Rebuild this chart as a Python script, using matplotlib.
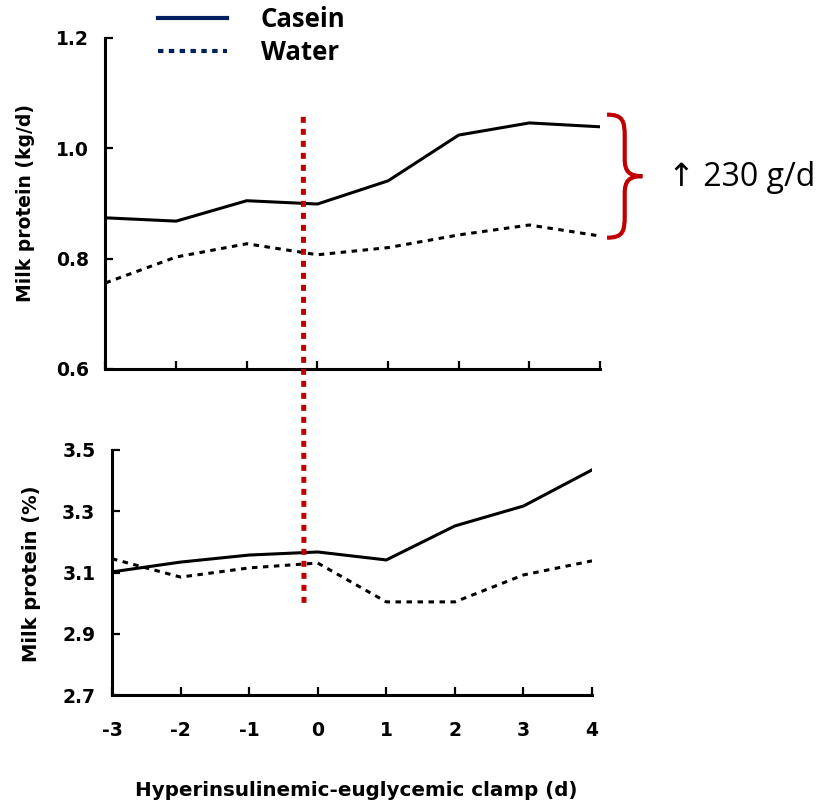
import matplotlib
matplotlib.use("Agg")
import matplotlib.pyplot as plt
from matplotlib.lines import Line2D
from matplotlib.patches import ConnectionPatch, PathPatch
from matplotlib.path import Path

# data
days = [-3, -2, -1, 0, 1, 2, 3, 4]
day_labels = ['-3', '-2', '-1', '0', '1', '2', '3', '4']

casein_kg = [0.874, 0.868, 0.905, 0.899, 0.941, 1.024, 1.046, 1.039]
water_kg = [0.756, 0.803, 0.827, 0.807, 0.820, 0.843, 0.861, 0.841]

casein_pct = [3.102, 3.134, 3.157, 3.167, 3.141, 3.252, 3.317, 3.435]
water_pct = [3.145, 3.085, 3.115, 3.131, 3.004, 3.004, 3.092, 3.138]

kg_ticks = [0.6, 0.8, 1.0, 1.2]
kg_labels = ['0.6', '0.8', '1.0', '1.2']
pct_ticks = [2.7, 2.9, 3.1, 3.3, 3.5]
pct_labels = ['2.7', '2.9', '3.1', '3.3', '3.5']

clamp_day = -0.2
red = '#C00000'
navy = '#002060'

plt.rcParams['axes.unicode_minus'] = False
fig = plt.figure(figsize=(8.21, 8.06), dpi=100)

ax1 = fig.add_axes([0.1285, 0.5422, 0.6023, 0.4107])
ax2 = fig.add_axes([0.1364, 0.1377, 0.5847, 0.3040])

tick_font = dict(family='DejaVu Sans', weight='bold', size=13.5)

for ax in (ax1, ax2):
    for side in ('top', 'right'):
        ax.spines[side].set_visible(False)
    for side in ('left', 'bottom'):
        ax.spines[side].set_linewidth(2.2)
    ax.tick_params(direction='in', length=6, width=1.6)
    ax.set_xlim(-3, 4)
    ax.set_xticks(days)

# top panel: kg/d
ax1.plot(days, casein_kg, color='black', lw=2.2, solid_joinstyle='round')
ax1.plot(days, water_kg, color='black', lw=2.2, linestyle=(0, (1.8, 1.8)))
ax1.set_ylim(0.6, 1.2)
ax1.set_yticks(kg_ticks)
ax1.set_yticklabels(kg_labels, fontdict=tick_font)
ax1.tick_params(axis='y', pad=12)
ax1.tick_params(axis='x', labelbottom=False)
ax1.set_ylabel('Milk protein (kg/d)', family='DejaVu Sans', weight='bold', size=13.5, va='center')
ax1.yaxis.set_label_coords(-0.162, 0.5)

# bottom panel: %
ax2.plot(days, casein_pct, color='black', lw=2.2, solid_joinstyle='round')
ax2.plot(days, water_pct, color='black', lw=2.2, linestyle=(0, (1.8, 1.8)))
ax2.set_ylim(2.7, 3.5)
ax2.set_yticks(pct_ticks)
ax2.set_yticklabels(pct_labels, fontdict=tick_font)
ax2.set_xticklabels(day_labels, fontdict=tick_font)
ax2.tick_params(axis='y', pad=12)
ax2.tick_params(axis='x', pad=19)
ax2.set_ylabel('Milk protein (%)', family='DejaVu Sans', weight='bold', size=14, va='center')
ax2.yaxis.set_label_coords(-0.167, 0.494)
ax2.set_xlabel('Hyperinsulinemic-euglycemic clamp (d)', family='DejaVu Sans', weight='bold',
               size=14.3, va='center')
ax2.xaxis.set_label_coords(0.508, -0.388)

# red dotted line marking the start of the clamp, across both panels
con = ConnectionPatch(xyA=(clamp_day, 1.057), coordsA=ax1.transData,
                      xyB=(clamp_day, 2.987), coordsB=ax2.transData,
                      arrowstyle='-', shrinkA=0, shrinkB=0,
                      color=red, lw=3.6, linestyle=(0, (1.2, 1.2)), capstyle='butt')
fig.add_artist(con)

# red brace between casein and water at day 4
x0 = days[-1] + 0.1
w = 0.5
ylo = water_kg[-1] - 0.003
yhi = casein_kg[-1] + 0.022
h = yhi - ylo


def bp(u, v):
    return (x0 + u * w, ylo + v * h)


verts = [bp(0, 1), bp(0.45, 1), bp(0.5, 0.95), bp(0.5, 0.82),
         bp(0.5, 0.64),
         bp(0.5, 0.54), bp(0.62, 0.5), bp(1, 0.5),
         bp(0.62, 0.5), bp(0.5, 0.46), bp(0.5, 0.36),
         bp(0.5, 0.18),
         bp(0.5, 0.05), bp(0.45, 0), bp(0, 0)]
codes = [Path.MOVETO, Path.CURVE4, Path.CURVE4, Path.CURVE4,
         Path.LINETO,
         Path.CURVE4, Path.CURVE4, Path.CURVE4,
         Path.CURVE4, Path.CURVE4, Path.CURVE4,
         Path.LINETO,
         Path.CURVE4, Path.CURVE4, Path.CURVE4]
brace = PathPatch(Path(verts, codes), facecolor='none', edgecolor=red, lw=3.0,
                  capstyle='butt', joinstyle='miter', clip_on=False)
ax1.add_patch(brace)

fig.text(668 / 821, 1 - 178 / 806, '\u2191 230 g/d', family=['Open Sans', 'DejaVu Sans'],
         size=23, ha='left', va='center')

# legend (navy handles as in the slide)
handles = [Line2D([], [], color=navy, lw=3.0),
           Line2D([], [], color=navy, lw=3.0, linestyle=(0, (1.3, 1.3)))]
fig.legend(handles, ['Casein', 'Water'], loc='center left',
           bbox_to_anchor=(158 / 821, 1 - 36 / 806), frameon=False,
           prop=dict(family='Open Sans', weight='bold', size=18.5),
           handlelength=2.7, handletextpad=1.3, labelspacing=0.25,
           borderpad=0, borderaxespad=0)

fig.savefig('out.png', dpi=100)
